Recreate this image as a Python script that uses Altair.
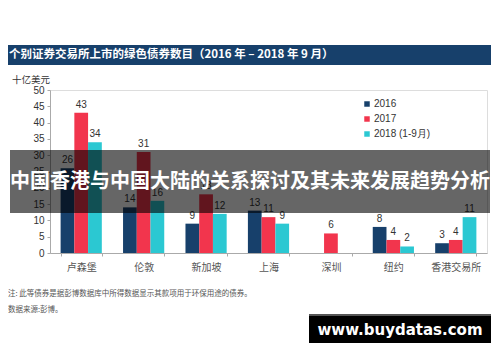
import altair as alt
import pandas as pd

cities = ["卢森堡", "伦敦", "新加坡", "上海", "深圳", "纽约", "香港交易所"]
series_names = ["2016", "2017", "2018 (1-9月)"]
v2016 = [26, 14, 9, 13, 0, 8, 3]
v2017 = [43, 31, 18, 11, 6, 4, 4]
v2018 = [34, 16, 12, 9, 0, 2, 11]
colors = ["#17406b", "#f2354d", "#2bc8d2"]

title_text = "个别证券交易所上市的绿色债券数目（2016 年 – 2018 年 9 月）"
y_unit = "十亿美元"
banner_text = "中国香港与中国大陆的关系探讨及其未来发展趋势分析"
note1 = "注: 此等债券是据彭博数据库中所得数据显示其款项用于环保用途的债券。"
note2 = "数据来源:彭博。"
watermark = "www.buydatas.com"

rows = []
for s, vals in zip(series_names, [v2016, v2017, v2018]):
    for c, v in zip(cities, vals):
        rows.append({"city": c, "series": s, "value": v})
df = pd.DataFrame(rows)

W, H = 437, 163
CJK = "Noto Sans CJK SC"
LAT = "Liberation Sans"

x_enc = alt.X("city:N", sort=cities, title=None,
              scale=alt.Scale(paddingInner=0.34, paddingOuter=0.17),
              axis=alt.Axis(labelFont=CJK, labelFontSize=10, labelColor="#555555",
                            labelPadding=6, tickBand="extent", tickSize=3,
                            domainColor="#aaaaaa", tickColor="#aaaaaa", labelAngle=0))
y_enc = alt.Y("value:Q", title=None,
              scale=alt.Scale(domain=[0, 50]),
              axis=alt.Axis(values=list(range(0, 51, 5)), grid=False, labelFont=LAT,
                            labelFontSize=10, labelColor="#333333", tickSize=3,
                            labelPadding=3, domainColor="#aaaaaa", tickColor="#aaaaaa"))
xo = alt.XOffset("series:N", sort=series_names)

bars = alt.Chart(df).mark_bar().encode(
    x=x_enc, y=y_enc, xOffset=xo,
    color=alt.Color("series:N", sort=series_names,
                    scale=alt.Scale(domain=series_names, range=colors),
                    legend=alt.Legend(title=None, orient="none", legendX=312, legendY=9,
                                      symbolType="square", symbolSize=30,
                                      labelFont=LAT, labelFontSize=10, labelColor="#333333",
                                      rowPadding=5, labelOffset=2, symbolStrokeWidth=0)),
)

labels = alt.Chart(df).transform_filter("datum.value > 0").mark_text(
    dy=-8, font=LAT, fontSize=10, color="#333333"
).encode(x=x_enc, y=y_enc, xOffset=xo, text="value:Q")

one = alt.Data(values=[{}])

title_bar = alt.Chart(one).mark_rect(color="#17406b").encode(
    x=alt.value(-42), x2=alt.value(441), y=alt.value(-45), y2=alt.value(-25))
title_txt = alt.Chart(one).mark_text(
    text=title_text, align="left", baseline="middle", font=CJK, fontSize=11.5,
    fontWeight="bold", color="white").encode(x=alt.value(-41), y=alt.value(-35))
unit_txt = alt.Chart(one).mark_text(
    text=y_unit, align="left", baseline="middle", font=CJK, fontSize=9.5,
    color="#333333").encode(x=alt.value(-38), y=alt.value(-10))

banner = alt.Chart(one).mark_rect(color="black", opacity=0.6).encode(
    x=alt.value(-40), x2=alt.value(440), y=alt.value(60), y2=alt.value(123))
banner_txt = alt.Chart(one).mark_text(
    text=banner_text, align="center", baseline="middle", font=CJK, fontSize=20,
    fontWeight="bold", color="white").encode(x=alt.value(200), y=alt.value(92))

n1 = alt.Chart(one).mark_text(
    text=note1, align="left", baseline="middle", font=CJK, fontSize=7.5,
    color="#555555").encode(x=alt.value(-42), y=alt.value(204))
n2 = alt.Chart(one).mark_text(
    text=note2, align="left", baseline="middle", font=CJK, fontSize=7.5,
    color="#555555").encode(x=alt.value(-42), y=alt.value(220))

wm_border = alt.Chart(one).mark_rect(color="#555555").encode(
    x=alt.value(259), x2=alt.value(441), y=alt.value(224), y2=alt.value(226))
wm_box = alt.Chart(one).mark_rect(color="black").encode(
    x=alt.value(259), x2=alt.value(441), y=alt.value(226), y2=alt.value(253))
wm_txt = alt.Chart(one).mark_text(
    text=watermark, align="center", baseline="middle", font="DejaVu Sans", fontSize=15,
    fontWeight="bold", color="white").encode(x=alt.value(350), y=alt.value(240))

chart = alt.layer(
    bars, labels, title_bar, title_txt, unit_txt, banner, banner_txt, n1, n2,
    wm_border, wm_box, wm_txt
).properties(
    width=W, height=H,
    autosize=alt.AutoSizeParams(type="none"),
    padding={"left": 42, "top": 82, "right": 5, "bottom": 100},
).configure_view(stroke=None).configure(background="white")

chart.save("out.html", embed_options={"renderer": "svg", "actions": False})
